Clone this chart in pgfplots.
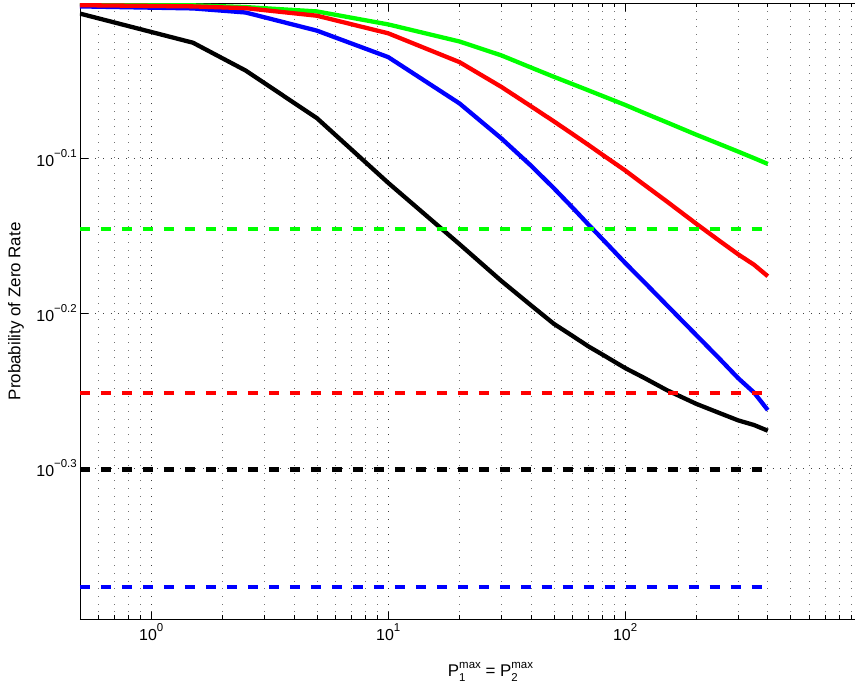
\documentclass[border=0pt]{standalone}
\usepackage{fontspec}
\setmainfont{Liberation Sans}
\usepackage{pgfplots}
\pgfplotsset{compat=1.18}
\newcommand\sups[1]{\raisebox{8.5bp}{\fontsize{11.5}{12}\selectfont #1}}
\newcommand\supsub[2]{\rlap{\raisebox{-4.5bp}{\fontsize{11.5}{12}\selectfont #2}}\raisebox{8.5bp}{\fontsize{11.5}{12}\selectfont #1}}

\pgfplotstableread{
x y
0.5 0.9844
1.5 0.9427
2.5 0.9046
5 0.8428
10 0.7656
20 0.6989
30 0.6618
40 0.6383
50 0.6209
60 0.6098
70 0.6004
80 0.5933
100 0.5814
120 0.5731
150 0.5626
200 0.5512
250 0.5438
300 0.5379
350 0.5342
400 0.5297
}\blackdata
\pgfplotstableread{
x y
0.5 0.995
1.5 0.992
2.5 0.986
5 0.9598
10 0.9228
20 0.8614
30 0.8179
40 0.7856
50 0.7595
60 0.7379
70 0.7196
80 0.7045
100 0.6797
120 0.6609
150 0.6383
200 0.6104
250 0.5896
300 0.5727
350 0.5606
400 0.5462
}\bluedata
\pgfplotstableread{
x y
0.5 0.9968
1.5 0.995
2.5 0.9924
5 0.9813
10 0.956
20 0.9159
30 0.8829
40 0.8579
50 0.8388
60 0.8231
70 0.8099
80 0.7985
100 0.7799
120 0.7638
150 0.7447
200 0.7203
250 0.7024
300 0.6884
350 0.6779
400 0.6664
}\reddata
\pgfplotstableread{
x y
0.5 0.999
1.5 0.9966
2.5 0.994
5 0.9876
10 0.9687
20 0.9444
30 0.9252
40 0.9087
50 0.8962
60 0.8865
70 0.8783
80 0.8712
100 0.8595
120 0.8494
150 0.8375
200 0.8222
250 0.8110
300 0.8019
350 0.7942
400 0.7874
}\greendata

\begin{document}
\begin{tikzpicture}
\begin{axis}[
  scale only axis, width=775bp, height=617bp,
  at={(0,0)}, anchor=south west,
  xmode=log, ymode=log,
  xmin=0.5, xmax=930, ymin=0.4, ymax=1,
  axis x line*=box, axis y line*=left,
  axis line style={line width=0.8bp, black},
  tick align=inside,
  xtick={1,10,100},
  xticklabels={10\sups{0},10\sups{1},10\sups{2}},
  minor xtick={0.6,0.7,0.8,0.9,2,3,4,5,6,7,8,9,20,30,40,50,60,70,80,90,200,300,400,500,600,700,800,900},
  ytick={0.501187,0.630957,0.794328},
  yticklabels={10\sups{−0.3},10\sups{−0.2},10\sups{−0.1}},
  minor ytick={},
  major tick length=8bp, minor tick length=4.5bp,
  every tick/.style={black, line width=0.6bp},
  xmajorgrids, xminorgrids, ymajorgrids,
  major grid style={black!75, line width=0.6bp, dash pattern=on 0.7bp off 7bp},
  minor grid style={black!55, line width=0.6bp, dash pattern=on 0.7bp off 7bp},
  ticklabel style={font=\fontsize{16}{18}\selectfont},
  xticklabel style={anchor=north, inner sep=0pt, yshift=-4bp},
  yticklabel style={anchor=east, inner sep=0pt, xshift=-3bp},
  every axis x label/.style={at={(axis description cs:0.530,0)}, anchor=center, yshift=-52bp},
  every axis y label/.style={at={(axis description cs:-0.0826,0.5)}, anchor=center, rotate=90},
  label style={font=\fontsize{17}{19}\selectfont},
  xlabel={P\supsub{max}{1} = P\supsub{max}{2}},
  ylabel={Probability of Zero Rate},
  clip=true,
]
\addplot[green, line width=4.3bp] table[x=x,y=y] {\greendata};
\addplot[blue, line width=4.3bp] table[x=x,y=y] {\bluedata};
\addplot[red, line width=4.3bp] table[x=x,y=y] {\reddata};
\addplot[black, line width=4.3bp] table[x=x,y=y] {\blackdata};
\addplot[green, line width=4.3bp, dash pattern=on 10bp off 11bp] coordinates {(0.5,0.7147) (400,0.7147)};
\addplot[red, line width=4.3bp, dash pattern=on 10bp off 11bp] coordinates {(0.5,0.5604) (400,0.5604)};
\addplot[black, line width=4.3bp, dash pattern=on 10bp off 11bp] coordinates {(0.5,0.5) (400,0.5)};
\addplot[blue, line width=4.3bp, dash pattern=on 10bp off 11bp] coordinates {(0.5,0.4201) (400,0.4201)};
\end{axis}
\path[use as bounding box] (-80bp,-69bp) rectangle (775bp,620bp);
\end{tikzpicture}
\end{document}
